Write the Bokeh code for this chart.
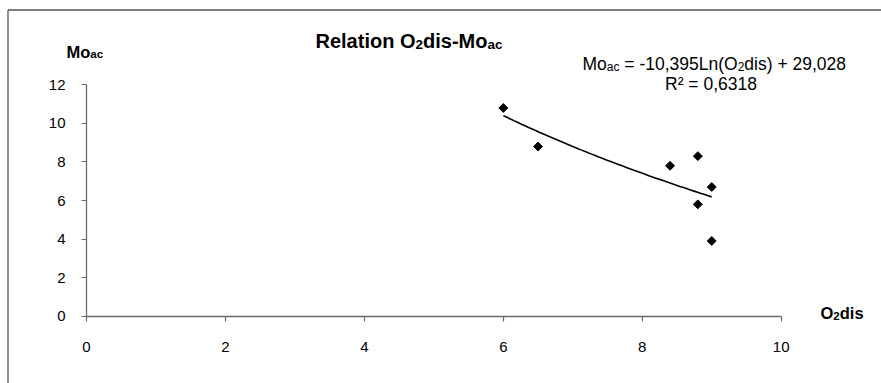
import numpy as np
from bokeh.plotting import figure
from bokeh.models import Label, FixedTicker
from bokeh.embed import file_html
from bokeh.resources import INLINE

# ---- data ----
o2dis = [6.0, 6.5, 8.4, 8.8, 8.8, 9.0, 9.0]
mo_ac = [10.8, 8.8, 7.8, 8.3, 5.8, 6.7, 3.9]
coef_a = -10.395   # trend: Mo_ac = a*Ln(O2dis) + b
coef_b = 29.028
r_squared = "0,6318"
x_ticks = [0, 2, 4, 6, 8, 10]
y_ticks = [0, 2, 4, 6, 8, 10, 12]

FONT = "Liberation Sans"

# ---- layout (canvas pixels) ----
W, H = 881, 383
AX_L, AX_R = 86.0, 780.7     # pixel of x = 0 and x = 10
AX_B, AX_T = 315.7, 84.3     # pixel of y = 0 and y = 12
XA, XB, YA, YB = 0, 10, 0, 12
ux = (AX_R - AX_L) / (XB - XA)
uy = (AX_B - AX_T) / (YB - YA)


def px(cx):
    return XA + (cx - AX_L) / ux


def py(cy):
    return YA + (AX_B - cy) / uy


REG = {' ': 278, '(': 333, ')': 333, '+': 584, ',': 278, '-': 333, '=': 584,
       'L': 556, 'M': 833, 'O': 778, 'R': 722, 'a': 556, 'c': 500, 'd': 556,
       'i': 222, 'n': 556, 'o': 556, 's': 500, '\u00b2': 333}
BOLD = {' ': 278, '-': 333, 'M': 833, 'O': 778, 'R': 722, 'a': 556, 'c': 556,
        'd': 611, 'e': 556, 'i': 278, 'l': 278, 'n': 611, 'o': 611, 's': 556,
        't': 333}


def tw(text, size, bold):
    tab = BOLD if bold else REG
    return sum(tab.get(ch, 556) for ch in text) / 1000.0 * size


p = figure(width=W, height=H, x_range=(px(0), px(W)), y_range=(py(H), py(0)),
           output_backend="svg", toolbar_location=None,
           min_border=0, min_border_left=0, min_border_right=0,
           min_border_top=0, min_border_bottom=0)
p.outline_line_color = None
p.background_fill_color = "white"
p.border_fill_color = "white"
p.xgrid.visible = False
p.ygrid.visible = False

for ax, ticks, bnd in ((p.xaxis, x_ticks, (XA, XB)), (p.yaxis, y_ticks, (YA, YB))):
    ax.ticker = FixedTicker(ticks=ticks)
    ax.fixed_location = 0
    ax.bounds = bnd
    ax.axis_line_color = "#6a6a6a"
    ax.axis_line_width = 1.3
    ax.major_tick_line_color = "#6a6a6a"
    ax.major_tick_line_width = 1.2
    ax.major_tick_out = 5
    ax.major_tick_in = 0
    ax.minor_tick_line_color = None
    ax.major_label_text_font = FONT
    ax.major_label_text_font_size = "15px"
    ax.major_label_text_color = "black"
p.xaxis.major_label_standoff = 21
p.yaxis.major_label_standoff = 16

# chart border (only top and left are visible; the rest is cropped)
bx, by = px(7.5), py(9.5)
p.segment(x0=[bx, bx], y0=[by, by], x1=[px(W + 10), bx], y1=[by, py(H + 10)],
          line_color="#555555", line_width=1.3)

# trend line from the displayed equation
tx = np.linspace(min(o2dis), max(o2dis), 60)
ty = coef_a * np.log(tx) + coef_b
p.line(tx, ty, line_color="black", line_width=1.6)

# data points (diamonds)
p.scatter(o2dis, mo_ac, marker="square", angle=np.pi / 4, size=6.3,
          fill_color="black", line_color="black")


def rich(x0, base, parts):
    """parts: (text, size, bold, drop_px)"""
    x = x0
    for text, size, bold, drop in parts:
        stripped = text.lstrip(" ")
        x += tw(text[:len(text) - len(stripped)], size, bold)
        p.add_layout(Label(x=px(x), y=py(base + drop), text=stripped,
                           text_font=FONT, text_font_size=f"{size}px",
                           text_font_style="bold" if bold else "normal",
                           text_color="black", text_baseline="alphabetic",
                           text_align="left"))
        x += tw(stripped, size, bold)


# title
rich(315, 40.5, [("Relation O", 20, True, 0), ("2", 13.5, True, 3),
                 ("dis-Mo", 20, True, 0), ("ac", 13.5, True, 3)])
# y axis title
rich(66, 51, [("Mo", 16.5, True, 0), ("ac", 11.5, True, 2.5)])
# x axis title
rich(820, 312.5, [("O", 16.5, True, 0), ("2", 11.5, True, 2.5),
                  ("dis", 16.5, True, 0)])
# equation
rich(582, 63, [("Mo", 17.5, False, 0), ("ac", 12, False, 3),
               (f" = {coef_a:.3f}".replace(".", ",") + "Ln(O", 17.5, False, 0),
               ("2", 12, False, 3),
               (f"dis) + {coef_b:.3f}".replace(".", ","), 17.5, False, 0)])
rich(664.5, 83, [("R\u00b2 = " + r_squared, 17.5, False, 0)])

open("out.html", "w").write(file_html(p, INLINE))
